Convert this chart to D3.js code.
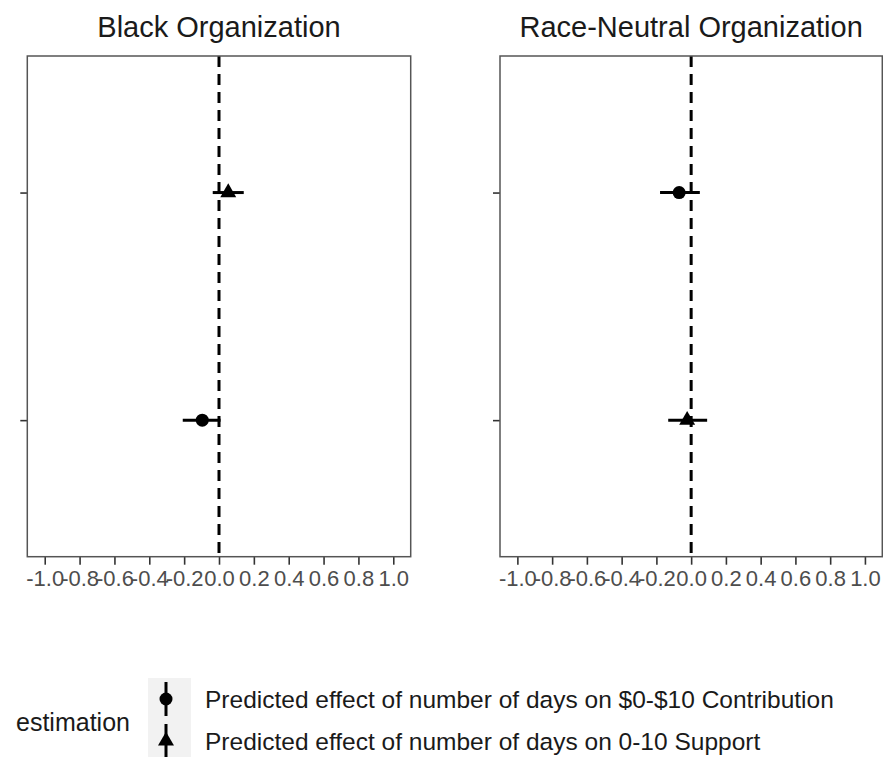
<!DOCTYPE html>
<html>
<head>
<meta charset="utf-8">
<script src="https://cdn.jsdelivr.net/npm/d3@7"></script>
<style>
  html, body { margin: 0; padding: 0; background: #fff; }
  svg { display: block; font-family: "Liberation Sans", Arial, Helvetica, sans-serif; }
</style>
</head>
<body>
<svg id="chart" width="883" height="757"></svg>
<script>
// Facets (organization type) and the two estimation series
const panels = ["Black Organization", "Race-Neutral Organization"];
const series = [
  "Predicted effect of number of days on $0-$10 Contribution",
  "Predicted effect of number of days on 0-10 Support"
];
const seriesShape = ["circle", "triangle"];
const yLevels = ["row1", "row2"];
const xTicks = [-1.0, -0.8, -0.6, -0.4, -0.2, 0.0, 0.2, 0.4, 0.6, 0.8, 1.0];

// Estimates with lower / upper bounds, one entry per panel and series
const estPanel  = ["Black Organization", "Black Organization", "Race-Neutral Organization", "Race-Neutral Organization"];
const estSeries = [0, 1, 0, 1];
const estRow    = ["row2", "row1", "row1", "row2"];
const estimate  = [-0.096, 0.053, -0.069, -0.023];
const lower     = [-0.208, -0.036, -0.179, -0.132];
const upper     = [0.009, 0.142, 0.050, 0.092];

const rows = estimate.map((v, i) => ({
  panel: estPanel[i], s: estSeries[i], row: estRow[i],
  est: v, lo: lower[i], hi: upper[i]
}));

const svg = d3.select("#chart");

const panelBoxes = [
  { left: 27.3, right: 410.7 },
  { left: 500, right: 882.3 }
];
const panelTop = 56, panelBottom = 556.7;

const y = d3.scalePoint().domain(yLevels).range([panelTop, panelBottom]).padding(0.6);

const triangle = d3.symbol().type(d3.symbolTriangle).size(110);

panels.forEach((name, pi) => {
  const box = panelBoxes[pi];
  const x = d3.scaleLinear().domain([-1.1, 1.1]).range([box.left, box.right]);
  const g = svg.append("g");

  // facet title
  g.append("text")
    .attr("x", (box.left + box.right) / 2)
    .attr("y", 37)
    .attr("text-anchor", "middle")
    .attr("font-size", 29)
    .attr("fill", "#1a1a1a")
    .text(name);

  // x axis, labels with a plain hyphen for negatives
  const xAxis = d3.axisBottom(x).tickValues(xTicks)
    .tickFormat(d => d.toFixed(1)).tickSizeOuter(0).tickSize(8).tickPadding(6);
  const gx = g.append("g").attr("transform", `translate(0,${panelBottom})`).call(xAxis);
  gx.select(".domain").remove();
  gx.selectAll(".tick line").attr("stroke", "#333").attr("stroke-width", 1.6);
  gx.selectAll(".tick text")
    .attr("font-size", 22).attr("fill", "#4d4d4d")
    .attr("font-family", "Liberation Sans, Arial, sans-serif");

  // y axis (unlabelled rows)
  const yAxis = d3.axisLeft(y).tickFormat(() => "").tickSizeOuter(0).tickSize(7);
  const gy = g.append("g").attr("transform", `translate(${box.left},0)`).call(yAxis);
  gy.select(".domain").remove();
  gy.selectAll(".tick line").attr("stroke", "#333").attr("stroke-width", 1.6);

  // reference line at zero
  g.append("line")
    .attr("x1", x(0)).attr("x2", x(0))
    .attr("y1", panelTop).attr("y2", panelBottom)
    .attr("stroke", "#000").attr("stroke-width", 3)
    .attr("stroke-dasharray", "11,7");

  const data = rows.filter(r => r.panel === name);

  // interval bars
  g.selectAll("line.err").data(data).join("line")
    .attr("class", "err")
    .attr("x1", d => x(d.lo)).attr("x2", d => x(d.hi))
    .attr("y1", d => y(d.row)).attr("y2", d => y(d.row))
    .attr("stroke", "#000").attr("stroke-width", 3);

  // point estimates
  data.forEach(d => {
    if (seriesShape[d.s] === "circle") {
      g.append("circle").attr("cx", x(d.est)).attr("cy", y(d.row)).attr("r", 6.5).attr("fill", "#000");
    } else {
      g.append("path").attr("d", triangle)
        .attr("transform", `translate(${x(d.est)},${y(d.row)})`).attr("fill", "#000");
    }
  });

  // panel border
  g.append("rect")
    .attr("x", box.left).attr("y", panelTop)
    .attr("width", box.right - box.left).attr("height", panelBottom - panelTop)
    .attr("fill", "none").attr("stroke", "#555").attr("stroke-width", 1.5);
});

// legend
const legend = svg.append("g");
legend.append("text")
  .attr("x", 16).attr("y", 731)
  .attr("font-size", 25).attr("fill", "#1a1a1a")
  .text("estimation");

const keyTop = 678, keyH = 42;
series.forEach((label, i) => {
  const cy = keyTop + keyH * i + keyH / 2;
  legend.append("rect")
    .attr("x", 148).attr("y", keyTop + keyH * i)
    .attr("width", 43).attr("height", keyH)
    .attr("fill", "#f2f2f2");
  legend.append("line")
    .attr("x1", 166).attr("x2", 166)
    .attr("y1", cy - 17).attr("y2", cy + 17)
    .attr("stroke", "#000").attr("stroke-width", 3);
  if (seriesShape[i] === "circle") {
    legend.append("circle").attr("cx", 166).attr("cy", cy).attr("r", 6.5).attr("fill", "#000");
  } else {
    legend.append("path").attr("d", triangle)
      .attr("transform", `translate(166,${cy})`).attr("fill", "#000");
  }
  legend.append("text")
    .attr("x", 205).attr("y", cy + 9)
    .attr("font-size", 24.5).attr("fill", "#1a1a1a")
    .text(label);
});
</script>
</body>
</html>
